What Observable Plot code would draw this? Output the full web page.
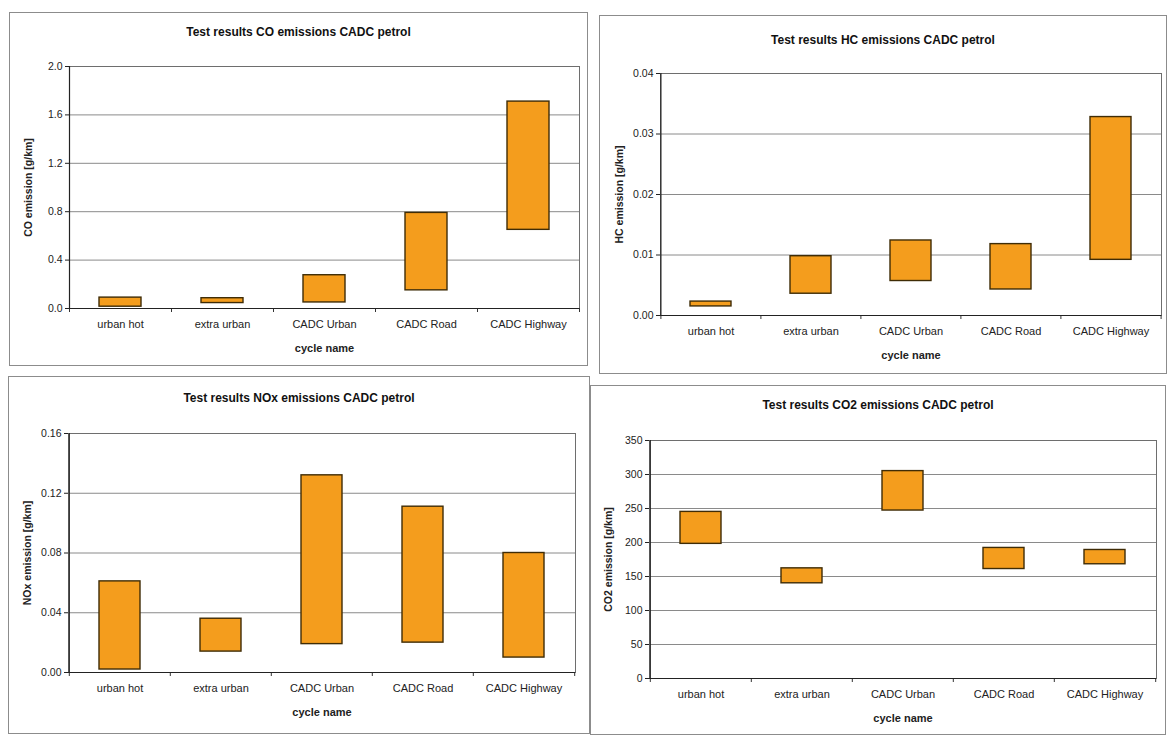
<!DOCTYPE html>
<html><head><meta charset="utf-8">
<script src="https://cdn.jsdelivr.net/npm/d3@7"></script>
<script src="https://cdn.jsdelivr.net/npm/@observablehq/plot@0.6"></script>
<style>
body{margin:0;background:#fff;}
#page{position:relative;width:1170px;height:738px;overflow:hidden;font-family:"Liberation Sans",Arial,sans-serif;background:#fff;}
.panel{position:absolute;}
.panel .border{position:absolute;left:0;top:0;right:0;bottom:0;border:1.5px solid #8c8c8c;}
.panel svg{position:absolute;left:0;top:0;overflow:visible;}
.title{position:absolute;left:0;right:0;text-align:center;font-weight:bold;font-size:12px;line-height:14px;color:#111;}
g[aria-label="y-axis label"] text, g[aria-label="x-axis label"] text{font-weight:bold;}
</style></head>
<body><div id="page"></div>
<script>
const categories = ["urban hot", "extra urban", "CADC Urban", "CADC Road", "CADC Highway"];

const coLow  = [0.015, 0.045, 0.05, 0.15, 0.65];
const coHigh = [0.09, 0.085, 0.275, 0.79, 1.71];
const hcLow  = [0.0015, 0.0036, 0.0057, 0.0043, 0.0092];
const hcHigh = [0.0023, 0.0098, 0.0124, 0.0118, 0.0328];
const noxLow  = [0.002, 0.014, 0.019, 0.020, 0.010];
const noxHigh = [0.061, 0.036, 0.132, 0.111, 0.080];
const co2Low  = [198, 140, 247, 161, 168];
const co2High = [245, 162, 305, 192, 189];

const coTicks  = [0, 0.4, 0.8, 1.2, 1.6, 2.0];
const hcTicks  = [0, 0.01, 0.02, 0.03, 0.04];
const noxTicks = [0, 0.04, 0.08, 0.12, 0.16];
const co2Ticks = [0, 50, 100, 150, 200, 250, 300, 350];

const panels = [
  {title: "Test results CO emissions CADC petrol", ylabel: "CO emission [g/km]", low: coLow, high: coHigh, ticks: coTicks, fmt: d3.format(".1f"),
   box: {x: 9, y: 12, w: 579, h: 354}, frame: {l: 69, t: 66, r: 579, b: 308}, titleY: 32},
  {title: "Test results HC emissions CADC petrol", ylabel: "HC emission [g/km]", low: hcLow, high: hcHigh, ticks: hcTicks, fmt: d3.format(".2f"),
   box: {x: 599, y: 15, w: 568, h: 359}, frame: {l: 660, t: 73, r: 1161, b: 315}, titleY: 40},
  {title: "Test results NOx emissions CADC petrol", ylabel: "NOx emission [g/km]", low: noxLow, high: noxHigh, ticks: noxTicks, fmt: d3.format(".2f"),
   box: {x: 8, y: 376, w: 582, h: 358}, frame: {l: 68, t: 433, r: 575, b: 672}, titleY: 398},
  {title: "Test results CO2 emissions CADC petrol", ylabel: "CO2 emission [g/km]", low: co2Low, high: co2High, ticks: co2Ticks, fmt: d3.format("d"),
   box: {x: 590, y: 385, w: 576, h: 350}, frame: {l: 649, t: 440, r: 1156, b: 678}, titleY: 405}
];

const page = document.getElementById("page");

for (const p of panels) {
  const W = p.box.w, H = p.box.h;
  const mL = p.frame.l - p.box.x, mR = p.box.x + W - p.frame.r;
  const mT = p.frame.t - p.box.y, mB = p.box.y + H - p.frame.b;
  const innerW = W - mL - mR, innerH = H - mT - mB;
  const step = innerW / categories.length;
  const yMax = p.ticks[p.ticks.length - 1];
  const tickLen = 4 / innerH * yMax;
  const rows = categories.map((c, i) => ({cycle: c, low: p.low[i], high: p.high[i]}));

  const chart = Plot.plot({
    width: W, height: H,
    marginLeft: mL, marginRight: mR, marginTop: mT, marginBottom: mB,
    style: {background: "transparent", fontFamily: "Liberation Sans, Arial, sans-serif", fontSize: "10.5px", color: "#222"},
    x: {type: "band", domain: categories, paddingInner: 0.59, paddingOuter: 0.295},
    y: {domain: [0, yMax]},
    marks: [
      Plot.gridY(p.ticks.slice(1), {stroke: "#8a8a8a", strokeOpacity: 1, strokeWidth: 1}),
      Plot.frame({stroke: "#6e6e6e", strokeWidth: 1}),
      Plot.ruleX(categories, {dx: -step / 2, y1: 0, y2: -tickLen, stroke: "#333"}),
      Plot.ruleX([categories[categories.length - 1]], {dx: step / 2, y1: 0, y2: -tickLen, stroke: "#333"}),
      Plot.ruleX([categories[0]], {dx: -step / 2, stroke: "#222", strokeWidth: 1.2}),
      Plot.ruleY([0], {stroke: "#222", strokeWidth: 1.2}),
      Plot.barY(rows, {x: "cycle", y1: "low", y2: "high", fill: "#f49d1d", stroke: "#3f2c06", strokeWidth: 1.4}),
      Plot.axisY(p.ticks, {tickFormat: p.fmt, tickSize: 4, tickPadding: 3, fontSize: 10.5, label: p.ylabel, labelArrow: "none", labelAnchor: "center", labelOffset: 45, stroke: "#222"}),
      Plot.axisX({tickSize: 0, tickPadding: 12, fontSize: 11, label: "cycle name", labelArrow: "none", labelAnchor: "center", labelOffset: 43})
    ]
  });
  // strip any automatic label arrows
  chart.querySelectorAll('g[aria-label$="axis label"] text, g[aria-label$="axis label"] tspan').forEach(el => {
    if (el.childNodes.length === 1 && el.firstChild.nodeType === 3) {
      el.textContent = el.textContent.replace(/\s*[←→↑↓]\s*/g, "");
    }
  });

  const div = document.createElement("div");
  div.className = "panel";
  div.style.left = p.box.x + "px";
  div.style.top = p.box.y + "px";
  div.style.width = W + "px";
  div.style.height = H + "px";
  const border = document.createElement("div");
  border.className = "border";
  div.appendChild(border);
  div.appendChild(chart);
  const t = document.createElement("div");
  t.className = "title";
  t.style.top = (p.titleY - p.box.y - 7) + "px";
  t.textContent = p.title;
  div.appendChild(t);
  page.appendChild(div);
}
</script>
</body></html>
